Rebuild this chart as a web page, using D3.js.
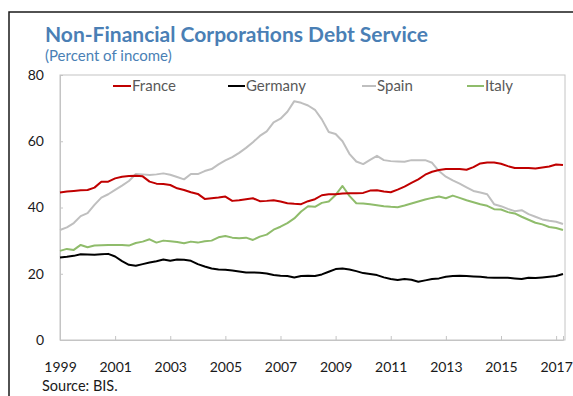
<!DOCTYPE html>
<html>
<head>
<meta charset="utf-8">
<script src="https://cdn.jsdelivr.net/npm/d3@7"></script>
<style>
  html, body { margin: 0; padding: 0; background: #fff; }
  svg { display: block; }
  text { font-family: Lato, "Open Sans", sans-serif; }
</style>
</head>
<body>
<svg id="chart" width="573" height="396"></svg>
<script>
// Quarterly observations, 1999Q1 – 2017Q2 (percent of income)
const startYear = 1999;
const france = [
  44.5, 44.8, 45.0, 45.2, 45.3, 46.0, 47.8, 47.8, 48.8, 49.3, 49.5, 49.6,
  49.4, 47.8, 47.2, 47.1, 46.8, 45.8, 45.3, 44.6, 44.1, 42.6, 42.8, 43.0,
  43.3, 42.0, 42.2, 42.5, 42.8, 41.9, 42.0, 42.2, 41.8, 41.3, 41.1, 41.0,
  41.9, 42.5, 43.7, 44.0, 44.0, 44.2, 44.3, 44.3, 44.4, 45.1, 45.2, 44.8,
  44.6, 45.4, 46.3, 47.4, 48.5, 49.9, 50.8, 51.3, 51.6, 51.6, 51.6, 51.4,
  52.2, 53.3, 53.6, 53.6, 53.2, 52.5, 51.9, 51.9, 51.9, 51.8, 52.1, 52.4,
  53.0, 52.8
];
const germany = [
  24.9, 25.1, 25.4, 25.9, 25.8, 25.7, 25.9, 26.0, 25.2, 23.8, 22.7, 22.4,
  22.9, 23.4, 23.8, 24.3, 23.9, 24.3, 24.2, 23.9, 22.9, 22.2, 21.6, 21.3,
  21.2, 21.0, 20.7, 20.4, 20.4, 20.3, 20.1, 19.6, 19.4, 19.3, 18.9, 19.3,
  19.4, 19.3, 19.8, 20.6, 21.4, 21.6, 21.3, 20.8, 20.2, 19.9, 19.6, 18.9,
  18.4, 18.1, 18.4, 18.2, 17.6, 18.0, 18.4, 18.6, 19.1, 19.3, 19.4, 19.3,
  19.2, 19.1, 18.9, 18.8, 18.8, 18.8, 18.6, 18.4, 18.8, 18.7, 18.9, 19.1,
  19.3, 19.9
];
const spain = [
  33.2, 34.0, 35.3, 37.4, 38.3, 40.8, 43.0, 44.0, 45.3, 46.6, 48.0, 50.1,
  50.0, 49.8, 50.0, 50.3, 49.9, 49.2, 48.5, 50.1, 50.1, 51.0, 51.6, 53.0,
  54.2, 55.2, 56.5, 58.0, 59.7, 61.6, 63.0, 65.7, 66.8, 68.9, 72.1, 71.6,
  70.8, 69.5, 66.6, 62.8, 62.2, 60.0, 56.2, 53.9, 53.1, 54.4, 55.6, 54.3,
  54.0, 53.9, 53.8, 54.3, 54.3, 54.3, 53.5, 51.0, 49.3, 48.2, 47.2, 46.1,
  45.0, 44.5, 44.0, 41.0, 40.4, 39.6, 38.9, 39.2, 38.0, 37.2, 36.4, 36.0,
  35.7, 35.0
];
const italy = [
  26.9, 27.5, 27.2, 28.7, 28.0, 28.5, 28.6, 28.7, 28.7, 28.7, 28.5, 29.3,
  29.7, 30.4, 29.4, 30.0, 29.8, 29.6, 29.2, 29.7, 29.4, 29.8, 30.0, 31.0,
  31.4, 30.9, 30.7, 30.9, 30.2, 31.2, 31.8, 33.3, 34.2, 35.3, 36.7, 38.8,
  40.4, 40.2, 41.4, 41.8, 43.8, 46.5, 43.5, 41.3, 41.2, 41.0, 40.7, 40.4,
  40.2, 40.1, 40.6, 41.2, 41.8, 42.4, 42.9, 43.3, 42.8, 43.6, 42.9, 42.2,
  41.6, 41.0, 40.5, 39.5, 39.4, 38.6, 38.2, 37.2, 36.3, 35.4, 34.9, 34.1,
  33.8, 33.2
];

const seriesNames = ["France", "Germany", "Spain", "Italy"];
const seriesColors = ["#c00000", "#000000", "#bfbfbf", "#8fbc6b"];
const yTicks = [0, 20, 40, 60, 80];
const xTickYears = [1999, 2001, 2003, 2005, 2007, 2009, 2011, 2013, 2015, 2017];

const titleText = "Non-Financial Corporations Debt Service";
const subtitleText = "(Percent of income)";
const sourceText = "Source: BIS.";

const svg = d3.select("#chart");
const W = 573, H = 396;
const plot = { left: 60, right: 565, top: 75, bottom: 340 };

// outer frame (top and left edges)
svg.append("path")
  .attr("d", `M9,${H} L9,12 L${W},12`)
  .attr("fill", "none")
  .attr("stroke", "#1a1a1a")
  .attr("stroke-width", 1.5);

// title and subtitle
svg.append("text")
  .attr("x", 45).attr("y", 42)
  .attr("fill", "#4a7fb5")
  .attr("font-weight", "bold")
  .attr("font-size", 21)
  .text(titleText);
svg.append("text")
  .attr("x", 45).attr("y", 61)
  .attr("fill", "#4a7fb5")
  .attr("font-size", 15)
  .text(subtitleText);

const x = d3.scaleLinear()
  .domain([1999, 2017.25])
  .range([plot.left, 563]);
const y = d3.scaleLinear()
  .domain([0, 80])
  .range([plot.bottom, plot.top]);

// plot-area box
svg.append("rect")
  .attr("x", plot.left).attr("y", plot.top)
  .attr("width", plot.right - plot.left)
  .attr("height", plot.bottom - plot.top)
  .attr("fill", "none")
  .attr("stroke", "#c4c4c4")
  .attr("stroke-width", 1);

// y axis: inward ticks, labels to the left
const yAxis = d3.axisRight(y).tickValues(yTicks).tickSize(3).tickFormat(d => d);
const gy = svg.append("g").attr("transform", `translate(${plot.left},0)`).call(yAxis);
gy.select(".domain").attr("stroke", "#c4c4c4");
gy.selectAll(".tick line").attr("stroke", "#c4c4c4");
gy.selectAll(".tick text")
  .attr("x", -16).attr("text-anchor", "end")
  .attr("font-family", "Lato, sans-serif")
  .attr("font-size", 14).attr("fill", "#1a1a1a");

// x axis: ticks pointing up, year labels below
const xAxis = d3.axisBottom(x).tickValues(xTickYears).tickSize(-4).tickFormat(d => String(d));
const gx = svg.append("g").attr("transform", `translate(0,${plot.bottom})`).call(xAxis);
gx.select(".domain").attr("stroke", "#c4c4c4");
gx.selectAll(".tick line").attr("stroke", "#c4c4c4");
gx.selectAll(".tick text")
  .attr("y", 22)
  .attr("font-family", "Lato, sans-serif")
  .attr("font-size", 14).attr("fill", "#1a1a1a");

// lines
const allSeries = [france, germany, spain, italy];
const line = d3.line()
  .x((d, i) => x(startYear + i / 4))
  .y(d => y(d));
const drawOrder = [2, 3, 1, 0];
drawOrder.forEach(k => {
  svg.append("path")
    .datum(allSeries[k])
    .attr("d", line)
    .attr("fill", "none")
    .attr("stroke", seriesColors[k])
    .attr("stroke-width", 2)
    .attr("stroke-linejoin", "round");
});

// legend
const legendX = [113, 228, 362, 467];
const legendLen = [18, 17, 14, 17];
seriesNames.forEach((name, k) => {
  const g = svg.append("g");
  g.append("line")
    .attr("x1", legendX[k]).attr("x2", legendX[k] + legendLen[k])
    .attr("y1", 86).attr("y2", 86)
    .attr("stroke", seriesColors[k]).attr("stroke-width", 2);
  g.append("text")
    .attr("x", legendX[k] + legendLen[k] + 1).attr("y", 91)
    .attr("font-size", 15).attr("fill", "#595959")
    .text(name);
});

// source note
svg.append("text")
  .attr("x", 42).attr("y", 391)
  .attr("font-size", 14.5).attr("fill", "#1a1a1a")
  .text(sourceText);
</script>
</body>
</html>
